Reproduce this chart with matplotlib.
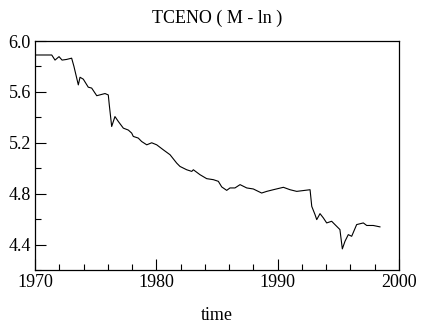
import matplotlib
matplotlib.use("Agg")
import matplotlib.pyplot as plt
from matplotlib.ticker import MultipleLocator

years = [1970.00, 1971.38, 1971.65, 1971.98, 1972.23, 1972.60, 1973.02, 1973.21, 1973.57,
         1973.71, 1973.98, 1974.39, 1974.67, 1975.09, 1975.77, 1976.04, 1976.12, 1976.32,
         1976.59, 1976.87, 1977.28, 1977.69, 1977.97, 1978.10, 1978.51, 1978.79, 1979.21,
         1979.62, 1980.03, 1980.57, 1981.13, 1981.68, 1981.95, 1982.50, 1982.92, 1983.05,
         1983.60, 1984.15, 1984.70, 1985.11, 1985.39, 1985.80, 1986.07, 1986.48, 1986.90,
         1987.45, 1987.99, 1988.68, 1989.10, 1989.64, 1990.47, 1991.02, 1991.57, 1992.67,
         1992.81, 1993.08, 1993.22, 1993.49, 1993.76, 1994.04, 1994.45, 1994.72, 1995.13,
         1995.33, 1995.55, 1995.82, 1996.10, 1996.51, 1997.06, 1997.34, 1997.88, 1998.43]
values = [5.89, 5.89, 5.85, 5.877, 5.85, 5.855, 5.865, 5.80, 5.655,
          5.715, 5.70, 5.637, 5.63, 5.57, 5.587, 5.576, 5.50, 5.328,
          5.406, 5.367, 5.315, 5.30, 5.276, 5.25, 5.237, 5.21, 5.184,
          5.20, 5.184, 5.145, 5.106, 5.04, 5.014, 4.988, 4.975, 4.988,
          4.949, 4.918, 4.91, 4.897, 4.853, 4.826, 4.845, 4.845, 4.871,
          4.845, 4.837, 4.805, 4.818, 4.831, 4.85, 4.831, 4.818, 4.831,
          4.70, 4.635, 4.596, 4.643, 4.61, 4.57, 4.583, 4.557, 4.518,
          4.366, 4.426, 4.478, 4.465, 4.557, 4.57, 4.55, 4.55, 4.539]

title = "TCENO ( M - ln )"
xlabel = "time"
xticks = [1970, 1980, 1990, 2000]
yticks = [4.4, 4.8, 5.2, 5.6, 6.0]

plt.rcParams['font.family'] = ['Liberation Serif', 'DejaVu Serif']

fig = plt.figure(figsize=(4.21, 3.29), dpi=100)
ax = fig.add_axes([35/421, 59/329, 364/421, 229/329])
ax.plot(years, values, color='black', linewidth=0.8)
ax.set_xlim(1970, 2000)
ax.set_ylim(4.2, 6.0)
ax.set_xticks(xticks)
ax.set_yticks(yticks)
ax.set_yticklabels([f"{v:.1f}" for v in yticks])
ax.xaxis.set_minor_locator(MultipleLocator(2))
ax.yaxis.set_minor_locator(MultipleLocator(0.2))
ax.tick_params(which='both', direction='in', top=False, right=False, labelsize=13, pad=3,
               width=0.8, color='black')
ax.tick_params(which='major', length=8)
ax.tick_params(which='minor', length=4)
for s in ax.spines.values():
    s.set_linewidth(0.9)
fig.text(217/421, 1 - 18/329, title, ha='center', va='center', fontsize=13)
fig.text(217/421, 1 - 316/329, xlabel, ha='center', va='center', fontsize=13)
fig.savefig("out.png", dpi=100)
